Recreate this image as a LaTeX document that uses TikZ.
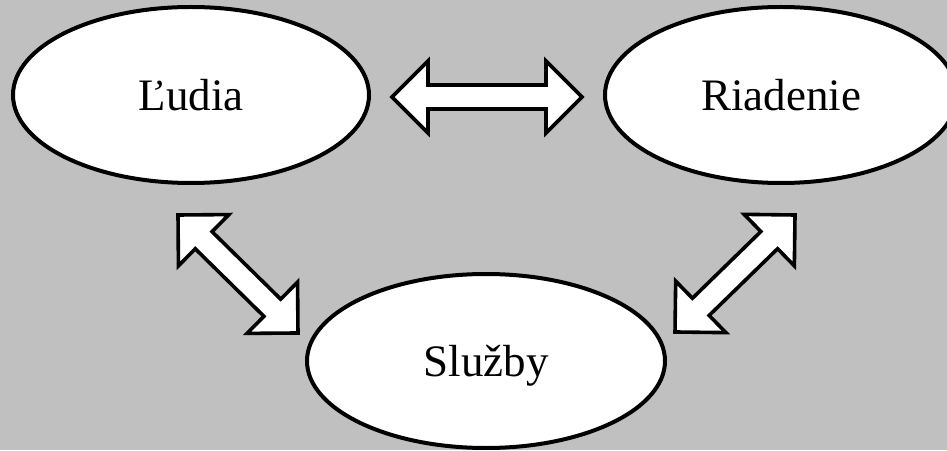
\documentclass[tikz,border=0pt]{standalone}
\usepackage{fontspec}
\setmainfont{Liberation Serif}
\usetikzlibrary{shapes.geometric,calc}
\definecolor{bggray}{RGB}{192,192,192}
\tikzset{
  oval/.style={ellipse, draw=black, fill=white, line width=4pt, inner sep=0pt,
    font=\fontsize{45}{54}\selectfont, text depth=0pt},
  blockarrow/.style={draw=black, fill=white, line width=3.6pt, line join=miter, miter limit=10}
}
\newcommand\blockarr[2]{%
  \draw[blockarrow] let \p1=($(#2)-(#1)$), \n1={atan2(\y1,\x1)}, \n2={veclen(\x1,\y1)-72} in
    (#1) -- ++(\n1+45:50.9) -- ++(\n1-90:24) -- ++(\n1:\n2) -- ++(\n1+90:24)
    -- ++(\n1-45:50.9) -- ++(\n1-135:50.9) -- ++(\n1+90:24) -- ++(\n1+180:\n2)
    -- ++(\n1-90:24) -- cycle;}
\begin{document}
\begin{tikzpicture}[x=1pt,y=1pt]
\useasboundingbox (0,0) rectangle (947,450);
\fill[bggray] (0,0) rectangle (947,450);
\begin{scope}
\clip (0,0) rectangle (947,450);
\node[oval, minimum width=356pt, minimum height=176pt] (ludia) at (191,355) {Ľudia};
\node[oval, minimum width=352pt, minimum height=176pt] (riad) at (781,355) {Riadenie};
\node[oval, minimum width=358pt, minimum height=174pt] (sluz) at (486,89) {Služby};
\end{scope}
\coordinate (h1) at (392,353);
\coordinate (h2) at (582,353);
\coordinate (l1) at (178,235);
\coordinate (l2) at (298,117);
\coordinate (r1) at (795,235);
\coordinate (r2) at (675,118);
\blockarr{h1}{h2}
\blockarr{l1}{l2}
\blockarr{r1}{r2}
\end{tikzpicture}
\end{document}
